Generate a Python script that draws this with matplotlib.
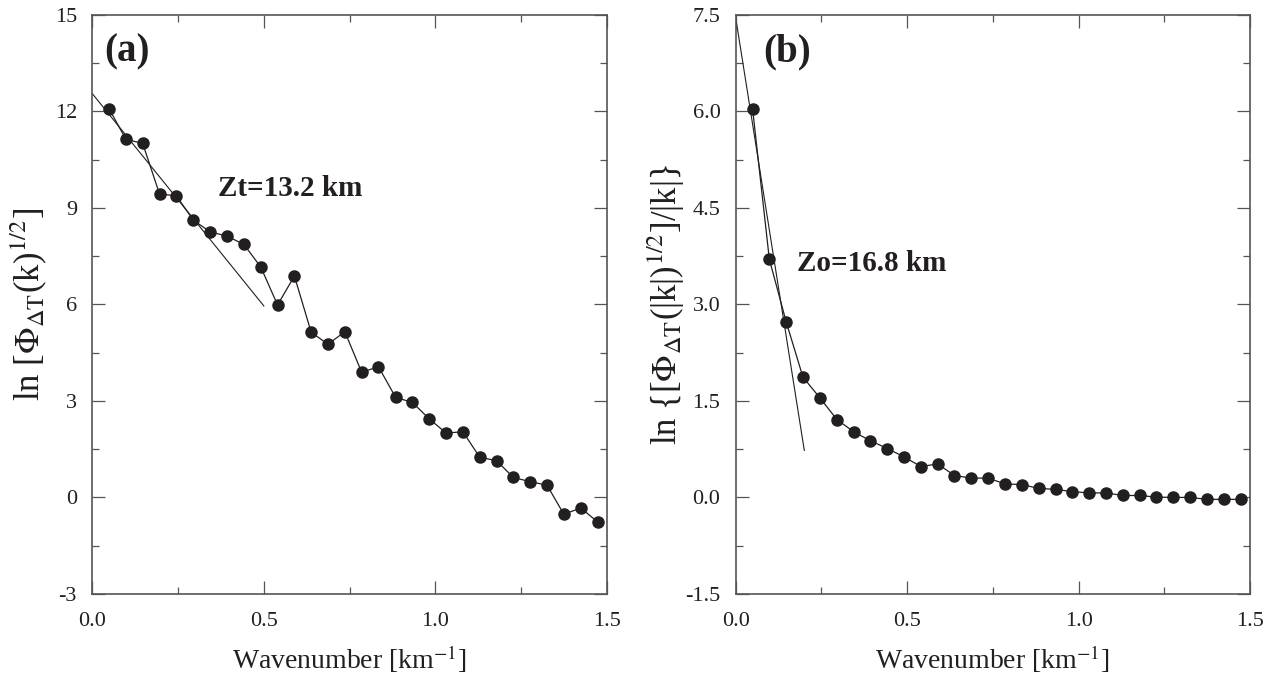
import matplotlib
matplotlib.use('Agg')
import matplotlib.pyplot as plt
from matplotlib.ticker import MultipleLocator

plt.rcParams['font.family'] = ['Liberation Serif', 'DejaVu Serif']
plt.rcParams['mathtext.fontset'] = 'stix'

# wavenumbers [km^-1]
k = [0.049, 0.098, 0.147, 0.196, 0.245, 0.295, 0.344, 0.393, 0.442, 0.491,
     0.540, 0.589, 0.638, 0.687, 0.736, 0.785, 0.834, 0.884, 0.933, 0.982,
     1.031, 1.080, 1.129, 1.178, 1.227, 1.276, 1.325, 1.374, 1.424, 1.473]

# (a) ln[Phi(k)^1/2]
spec_a = [12.08, 11.13, 11.00, 9.43, 9.37, 8.61, 8.25, 8.12, 7.86, 7.16,
          5.98, 6.88, 5.13, 4.76, 5.15, 3.89, 4.06, 3.11, 2.95, 2.44,
          2.00, 2.04, 1.25, 1.14, 0.62, 0.49, 0.38, -0.52, -0.33, -0.77]

# (b) ln{[Phi(|k|)^1/2]/|k|}
spec_b = [6.04, 3.70, 2.73, 1.87, 1.55, 1.21, 1.02, 0.88, 0.76, 0.63,
          0.48, 0.52, 0.34, 0.30, 0.30, 0.21, 0.20, 0.14, 0.125, 0.09,
          0.07, 0.07, 0.03, 0.03, 0.005, 0.0, 0.0, -0.03, -0.03, -0.03]

# fitted straight lines (end points)
fit_a_x = [0.0, 0.5]
fit_a_y = [12.55, 5.95]
fit_b_x = [0.0, 0.2]
fit_b_y = [7.45, 0.73]

ink = '#231f20'

fig = plt.figure(figsize=(12.74, 6.93), dpi=100)
ax1 = fig.add_axes([0.0724, 0.1429, 0.4041, 0.8359])
ax2 = fig.add_axes([0.5775, 0.1429, 0.4037, 0.8359])


def style(ax, ymin, ymax, ystep, fmt):
    ax.set_xlim(0, 1.5)
    ax.set_ylim(ymin, ymax)
    ax.xaxis.set_major_locator(MultipleLocator(0.5))
    ax.xaxis.set_minor_locator(MultipleLocator(0.25))
    ax.yaxis.set_major_locator(MultipleLocator(ystep))
    ax.yaxis.set_minor_locator(MultipleLocator(ystep / 2))
    ax.xaxis.set_major_formatter(plt.FormatStrFormatter('%.1f'))
    ax.yaxis.set_major_formatter(plt.FormatStrFormatter(fmt))
    ax.tick_params(which='both', direction='in', top=True, right=True,
                   colors='#555555', labelcolor=ink, labelsize=16, width=0.9)
    ax.tick_params(which='major', length=9.5, pad=11)
    ax.tick_params(axis='x', which='major', pad=13)
    ax.tick_params(which='minor', length=5)
    for s in ax.spines.values():
        s.set_color('#555555')
        s.set_linewidth(1.2)
    ax.set_xlabel('Wavenumber [km$^{-1}$]', fontsize=20, color=ink, labelpad=9)


style(ax1, -3, 15, 3, '%d')
style(ax2, -1.5, 7.5, 1.5, '%.1f')

ax1.plot(k, spec_a, '-o', color=ink, lw=0.9, ms=8)
ax1.plot(fit_a_x, fit_a_y, '-', color=ink, lw=0.8)
ax1.text(0.366, 9.6, 'Zt=13.2 km', fontsize=21, fontweight='bold', color=ink,
         va='center', ha='left')
ax1.text(0.035, 13.85, '(a)', fontsize=28, fontweight='bold', color=ink,
         va='center', ha='left')
ax1.set_ylabel(r'ln [$\Phi_{\Delta\mathrm{T}}$(k)$^{1/2}$]', fontsize=25,
               color=ink, labelpad=4)

ax2.plot(k, spec_b, '-o', color=ink, lw=0.9, ms=8)
ax2.plot(fit_b_x, fit_b_y, '-', color=ink, lw=0.8)
ax2.text(0.179, 3.64, 'Zo=16.8 km', fontsize=21, fontweight='bold', color=ink,
         va='center', ha='left')
ax2.text(0.08, 6.92, '(b)', fontsize=28, fontweight='bold', color=ink,
         va='center', ha='left')
ax2.set_ylabel(r'ln {[$\Phi_{\Delta\mathrm{T}}$(|k|)$^{1/2}$]/|k|}', fontsize=25,
               color=ink, labelpad=-1)

fig.savefig('out.png', dpi=100)
